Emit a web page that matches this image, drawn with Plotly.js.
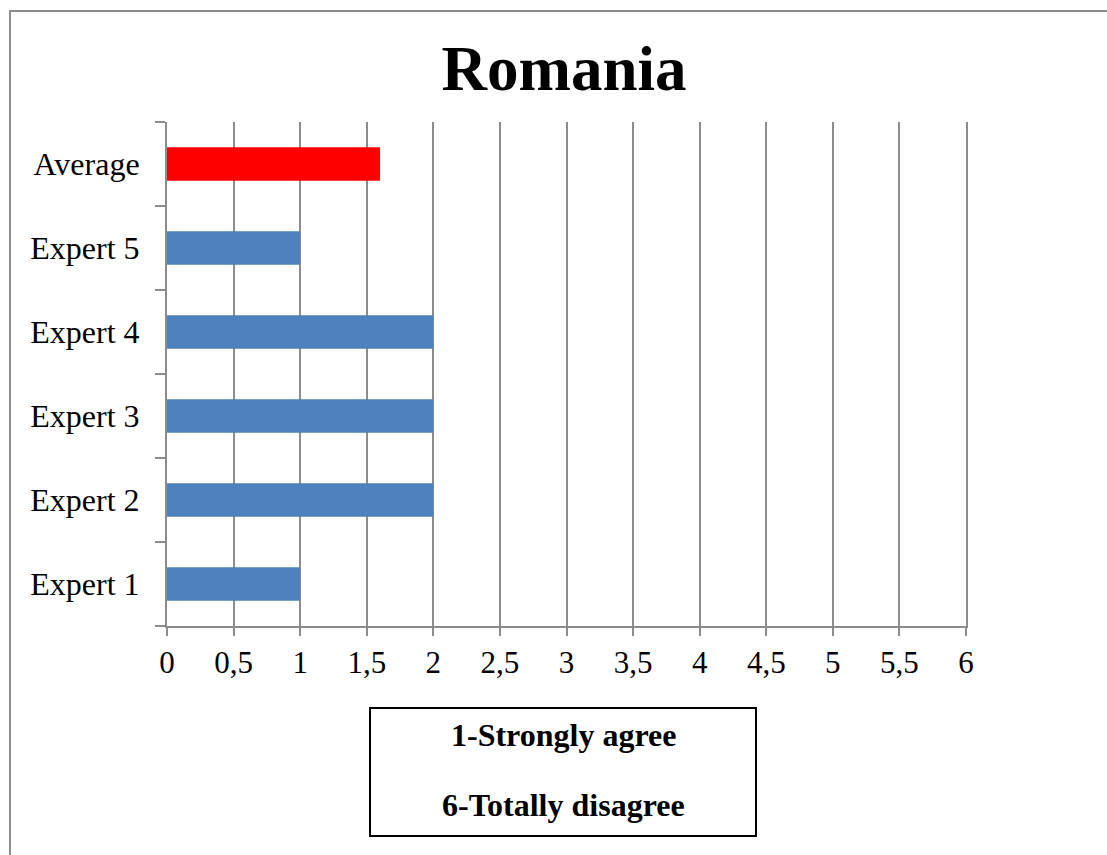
<!DOCTYPE html>
<html>
<head>
<meta charset="utf-8">
<script src="https://cdn.plot.ly/plotly-3.0.1.min.js"></script>
<style>
  html, body { margin: 0; padding: 0; background: #fff; }
  #chart { width: 1107px; height: 855px; }
</style>
</head>
<body>
<div id="chart"></div>
<script>
// Data
const categories = ["Expert 1", "Expert 2", "Expert 3", "Expert 4", "Expert 5", "Average"];
const scores = [1, 2, 2, 2, 1, 1.6];
const xTickValues = [0, 0.5, 1, 1.5, 2, 2.5, 3, 3.5, 4, 4.5, 5, 5.5, 6];
const xTickLabels = ["0", "0,5", "1", "1,5", "2", "2,5", "3", "3,5", "4", "4,5", "5", "5,5", "6"];
const chartTitle = "Romania";
const noteLines = ["1-Strongly agree", "6-Totally disagree"];

// Styling
const W = 1107, H = 855;
const M = { l: 167, r: 141, t: 122, b: 229 };
const PW = W - M.l - M.r, PH = H - M.t - M.b;
const px2x = p => (p - M.l) / PW;
const py2y = p => (H - M.b - p) / PH;
const FONT = "Liberation Serif, Times New Roman, serif";
const GRID = "#8c8c8c";
const BLUE = "#4F81BD", RED = "#FF0000";

const barColors = categories.map(c => c === "Average" ? RED : BLUE);

const trace = {
  type: "bar",
  orientation: "h",
  x: scores,
  y: categories,
  width: 0.4,
  marker: { color: barColors, line: { width: 0 } },
  hoverinfo: "x+y"
};

const layout = {
  width: W, height: H,
  margin: M,
  paper_bgcolor: "#fff",
  plot_bgcolor: "#fff",
  showlegend: false,
  font: { family: FONT, color: "#000", size: 31 },
  title: {
    text: "<b>" + chartTitle + "</b>",
    font: { family: FONT, size: 63, color: "#000" },
    x: px2x(564), xanchor: "center", xref: "paper",
    y: 1 - 68 / H, yanchor: "middle", yref: "container"
  },
  xaxis: {
    range: [0, 6],
    tickvals: xTickValues,
    ticktext: xTickLabels,
    showgrid: true,
    gridcolor: GRID,
    gridwidth: 2,
    zeroline: false,
    showline: true,
    linecolor: GRID,
    linewidth: 2,
    ticks: "outside",
    ticklen: 8,
    tickwidth: 2,
    tickcolor: GRID,
    tickfont: { family: FONT, size: 31, color: "#000" },
    fixedrange: true
  },
  yaxis: {
    type: "category",
    categoryorder: "array",
    categoryarray: categories,
    showgrid: false,
    zeroline: false,
    showline: true,
    mirror: true,
    linecolor: GRID,
    linewidth: 2,
    ticks: "outside",
    tickson: "boundaries",
    ticklen: 10,
    tickwidth: 2,
    tickcolor: GRID,
    ticklabelstandoff: 19,
    tickfont: { family: FONT, size: 32, color: "#000" },
    fixedrange: true
  },
  shapes: [
    {
      type: "rect", xref: "paper", yref: "paper",
      x0: px2x(10), x1: px2x(1120), y0: py2y(900), y1: py2y(11),
      line: { color: GRID, width: 2 }, fillcolor: "rgba(0,0,0,0)", layer: "below"
    },
    {
      type: "rect", xref: "paper", yref: "paper",
      x0: px2x(370), x1: px2x(756), y0: py2y(836), y1: py2y(708),
      line: { color: "#000", width: 2 }, fillcolor: "#fff"
    }
  ],
  annotations: [
    {
      xref: "paper", yref: "paper", x: px2x(563), y: py2y(735),
      xanchor: "center", yanchor: "middle", showarrow: false,
      text: "<b>" + noteLines[0] + "</b>",
      font: { family: FONT, size: 32, color: "#000" }
    },
    {
      xref: "paper", yref: "paper", x: px2x(563), y: py2y(805),
      xanchor: "center", yanchor: "middle", showarrow: false,
      text: "<b>" + noteLines[1] + "</b>",
      font: { family: FONT, size: 32, color: "#000" }
    }
  ]
};

Plotly.newPlot("chart", [trace], layout, { displayModeBar: false, staticPlot: true });
</script>
</body>
</html>
